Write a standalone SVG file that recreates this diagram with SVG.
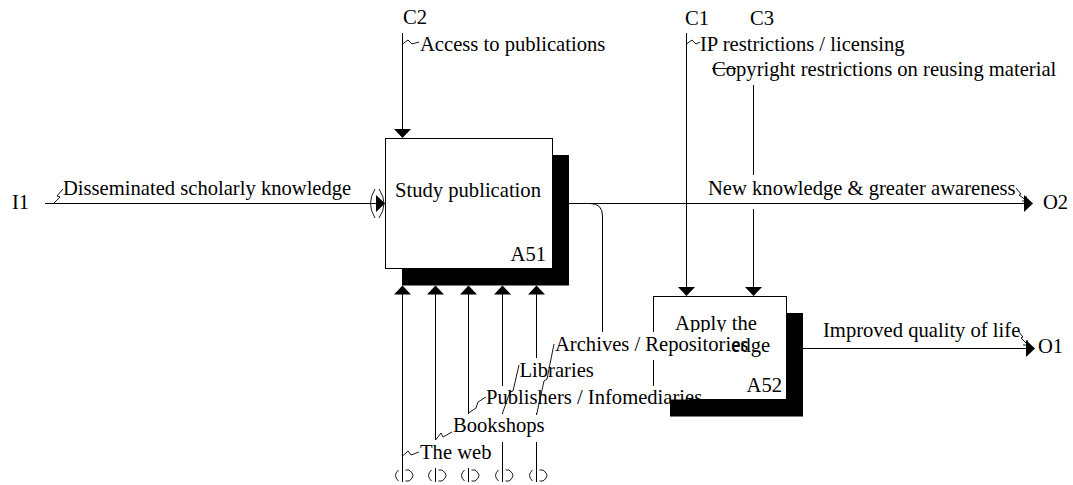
<svg xmlns="http://www.w3.org/2000/svg" width="1073" height="485" viewBox="0 0 1073 485">
<style>
text{font-family:'Liberation Serif','Times New Roman',Times,serif;font-size:20.6px;fill:#000}
.ln{fill:none;stroke:#000;stroke-width:1}
.sq{fill:none;stroke:#000;stroke-width:0.9}
.ah{fill:#000;stroke:none}
.box{fill:#fff;stroke:#000;stroke-width:1}
.sh{fill:#000;stroke:none}
.bg{fill:#fff;stroke:none}
.mid{text-anchor:middle}
.end{text-anchor:end}
</style>
<rect width="1073" height="485" fill="#fff"/>
<g id="connectors">
  <path class="ln" d="M45 203.5 H377"/>
  <polygon class="ah" points="376,195 385,203.5 376,212"/>
  <path class="sq" d="M375 189 Q366 203.5 375 218 M379 189 Q389 203.5 379 218"/>
  <path class="ln" d="M402.5 33 V130"/>
  <polygon class="ah" points="394,129 411,129 402.5,138"/>
  <path class="ln" d="M686.5 33 V288"/>
  <polygon class="ah" points="678,287 695,287 686.5,296"/>
  <path class="ln" d="M753.5 33 V175 M753.5 209 V288"/>
  <polygon class="ah" points="745,287 762,287 753.5,296"/>
  <path class="ln" d="M569 203.5 H1025"/>
  <polygon class="ah" points="1024,195 1033,203.5 1024,212"/>
  <path class="ln" d="M590 203.5 Q602.5 203.5 602.5 216 V334"/>
  <path class="ln" d="M803 348.5 H1027"/>
  <polygon class="ah" points="1026,340 1035,348.5 1026,357"/>
  <path class="ln" d="M402.5 482 V293 M435.5 482 V293 M468.5 482 V293 M502.5 482 V293 M536.5 482 V293"/>
  <polygon class="ah" points="394,294.5 411,294.5 402.5,285.5"/>
  <polygon class="ah" points="427,294.5 444,294.5 435.5,285.5"/>
  <polygon class="ah" points="460,294.5 477,294.5 468.5,285.5"/>
  <polygon class="ah" points="494,294.5 511,294.5 502.5,285.5"/>
  <polygon class="ah" points="528,294.5 545,294.5 536.5,285.5"/>
  <g class="sq">
    <path d="M398.5 470 Q392.5 475.5 398.5 481 M405.5 470 H409 Q417 475.5 409 481 H405.5"/>
    <path d="M431.5 470 Q425.5 475.5 431.5 481 M438.5 470 H442 Q450 475.5 442 481 H438.5"/>
    <path d="M464.5 470 Q458.5 475.5 464.5 481 M471.5 470 H475 Q483 475.5 475 481 H471.5"/>
    <path d="M498.5 470 Q492.5 475.5 498.5 481 M505.5 470 H509 Q517 475.5 509 481 H505.5"/>
    <path d="M532.5 470 Q526.5 475.5 532.5 481 M539.5 470 H543 Q551 475.5 543 481 H539.5"/>
  </g>
</g>
<g id="A51">
  <rect class="box" x="385.5" y="138.5" width="167" height="130"/>
  <text class="mid" x="468" y="197">Study publication</text>
  <text class="end" x="546" y="261">A51</text>
</g>
<g id="A52">
  <rect class="box" x="653.5" y="296.5" width="133" height="103"/>
  <text class="mid" x="716" y="330">Apply the</text>
  <text class="mid" x="725" y="352">knowledge</text>
  <text class="end" x="782" y="392">A52</text>
</g>
<g id="labels">
  <text x="12" y="209">I1</text>
  <text x="403" y="24">C2</text>
  <text x="685" y="25">C1</text>
  <text x="750" y="25">C3</text>
  <text x="1043" y="209">O2</text>
  <text x="1038" y="353">O1</text>
  <text x="63" y="195">Disseminated scholarly knowledge</text>
  <rect class="bg" x="419" y="32" width="187" height="27"/>
  <text x="420" y="51">Access to publications</text>
  <rect class="bg" x="699" y="32" width="207" height="26"/>
  <text x="700" y="51">IP restrictions / licensing</text>
  <rect class="bg" x="711" y="58" width="358" height="27"/>
  <text x="712" y="76">Copyright restrictions on reusing material</text>
  <text x="708" y="195">New knowledge &amp; greater awareness</text>
  <text x="823" y="337">Improved quality of life</text>
  <rect class="bg" x="554" y="332" width="176" height="28"/>
  <text x="555" y="351">Archives / Repositories</text>
  <rect class="bg" x="518" y="358" width="76" height="28"/>
  <text x="519.5" y="377">Libraries</text>
  <rect class="bg" x="485" y="386" width="204" height="27"/>
  <text x="486" y="404">Publishers / Infomediaries</text>
  <rect class="bg" x="452" y="414" width="93" height="28"/>
  <text x="453" y="432">Bookshops</text>
  <rect class="bg" x="419" y="440" width="72" height="28"/>
  <text x="420" y="459">The web</text>
  <g class="sq">
    <path d="M54 203 L60 197 L57 196 L63 189"/>
    <path d="M402.5 44 L408 40 L412 44 L419 42"/>
    <path d="M686.5 44 L692 40 L696 44 L700 42"/>
    <path d="M712 68.5 H736"/>
    <path d="M1016 188 L1021 194 L1019 195 L1027 201 M1022 201 L1027 201 L1026 196"/>
    <path d="M1018 331 L1023 337 L1021 338 L1028 345 M1023 345 L1028 345 L1027 340"/>
    <path d="M536.5 415 L544 381 L547 379 L554 344"/>
    <path d="M502.5 413 L510 392 L513 391 L519 365"/>
    <path d="M468.5 413 L476 408 L478 402 L486 397"/>
    <path d="M435.5 440 L441 433 L443 437 L452 432"/>
    <path d="M402.5 456 L408 451 L411 455 L419 452"/>
  </g>
</g>
<g id="shadows">
  <polygon class="sh" points="552.5,155 569,155 569,285.5 402,285.5 402,268.5 552.5,268.5"/>
  <polygon class="sh" points="786.5,313 803,313 803,416.5 670,416.5 670,399.5 786.5,399.5"/>
</g>
</svg>
